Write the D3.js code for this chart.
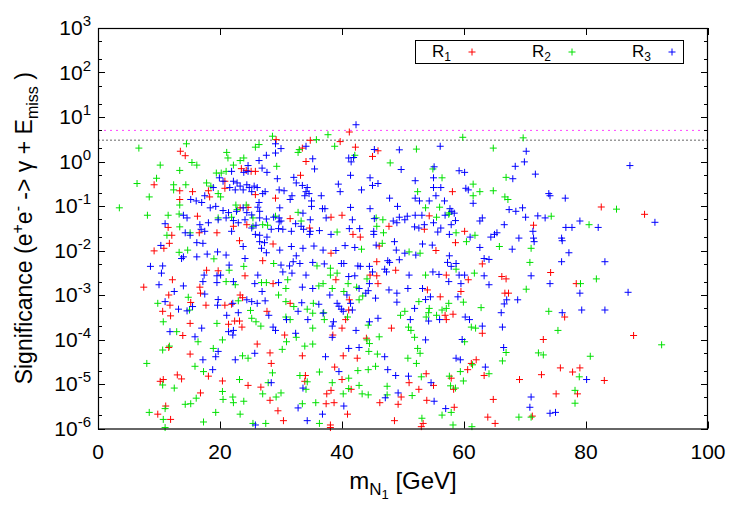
<!DOCTYPE html>
<html><head><meta charset="utf-8">
<script src="https://cdn.jsdelivr.net/npm/d3@7"></script>
<style>body{margin:0;background:#fff}svg{display:block}text{font-family:"Liberation Sans",Arial,sans-serif;fill:#000}</style>
</head><body><svg id="c" width="750" height="525"></svg>
<script>
const seriesNames=["R1","R2","R3"];
const seriesColors=["#ff0000","#00e000","#0000ff"];
const xTicks=[0,20,40,60,80,100];
const yExps=[-6,-5,-4,-3,-2,-1,0,1,2,3];
const thresholds=[5,3];
const R1=[[13.5,1.7],[14.3,1.35],[23.5,0.69],[24.3,0.63],[25.1,0.6],[20.8,0.36],[20.8,0.25],[9.2,0.3],[13.4,0.22],[15.5,0.21],[18.1,0.22],[18.3,0.16],[13.4,0.14],[16.3,0.059],[23.3,0.091],[24.6,0.093],[22.2,0.035],[24.4,0.038],[11.5,0.033],[12.1,0.022],[19.5,0.025],[16.6,0.025],
[41.2,4.6],[29.2,3.1],[34.8,3.0],[39.7,2.8],[33.5,2.0],[42.2,2.1],[34.1,1.0],[45.0,1.3],[45.9,1.74],[25.8,0.6],[33.2,0.49],[25.8,0.18],[29.1,0.15],[31.5,0.052],[34.7,0.032],[38.2,0.056],[40.0,0.062],[47.7,0.035],[41.8,0.023],[43.0,0.02],
[58.1,0.21],[54.3,0.06],[53.5,0.03],[71.4,0.037],[60.1,0.027],[82.5,0.095],[89.6,0.065],
[11.7,0.0145],[10.8,0.0112],[9.2,0.0098],[23.2,0.0166],[17.8,0.0036],[19.7,0.0035],[24.1,0.0027],[7.5,0.0015],[12.2,0.0022],[16.7,0.0015],[16.8,0.0011],[11.6,0.001],[15.2,0.00068],[17.7,0.00059],[20.8,0.00059],[21.9,0.00062],[23.3,0.001],[23.7,0.00087],[11.8,0.00059],[10.6,0.00043],[11.9,0.00034],[15.1,0.00023],[22.4,0.00026],[23.2,0.00026],[21.4,0.00022],[23.6,0.00019],[13.9,0.000123],[11.6,0.000066],[15.1,0.000047],
[28.7,0.014],[27.0,0.0059],[38.2,0.0087],[46.1,0.0126],[45.7,0.0056],[44.6,0.0028],[48.8,0.0036],[45.7,0.0027],[39.0,0.0022],[45.9,0.0018],[28.7,0.0018],[31.5,0.00065],[41.2,0.00078],[27.7,0.00043],[41.1,0.00046],[40.6,0.00028],[40.0,0.00018],[48.1,0.00018],[30.6,0.000126],[38.5,0.000126],[26.1,0.000079],[28.2,0.00005],[33.5,0.000043],[40.2,0.000043],[42.5,0.000038],[44.0,0.000107],
[58.6,0.015],[55.4,0.01],[63.0,0.005],[57.1,0.0028],[60.7,0.0022],[66.2,0.0026],[66.9,0.0023],[74.2,0.0032],[54.0,0.0013],[56.1,0.00091],[59.5,0.0012],[66.7,0.0011],[67.3,0.0011],[58.2,0.00037],[56.9,0.00035],[57.1,0.00028],[63.0,0.000138],[73.0,0.0001],[62.0,0.000035],
[78.4,0.0018],[76.5,0.00032],[87.8,0.000123],
[18.1,1.5e-5],[13.0,1.6e-5],[13.7,1.3e-5],[10.2,1.15e-5],[10.7,1.26e-5],[20.4,1.17e-5],[24.6,9.3e-6],[16.8,6.3e-6],[11.1,3.2e-6],[9.8,2.1e-6],[11.9,1.6e-6],
[28.4,2.9e-5],[38.8,2.4e-5],[34.0,1.55e-5],[26.7,8.5e-6],[28.2,4.3e-6],[33.9,1.15e-5],[40.0,1.26e-5],[37.5,6e-6],[38.2,7.2e-6],[41.5,7.6e-6],[49.7,5.1e-6],[46.2,3.8e-6],[37.4,3.6e-6],[38.7,3.8e-6],[40.9,2.1e-6],[29.5,2.5e-6],[30.4,1.5e-6],[38.1,1.2e-6],[38.1,1.05e-6],[49.2,3.5e-6],[48.6,1.5e-6],
[61.2,2.9e-5],[60.6,2.1e-5],[63.3,1.55e-5],[53.8,1.7e-5],[51.0,1.07e-5],[55.0,9.3e-6],[57.9,1.35e-5],[58.3,7.6e-6],[52.6,7.6e-6],[53.9,4.3e-6],[64.8,4.5e-6],[69.1,1.26e-5],[72.7,1.62e-5],[75.1,6e-6],[58.4,3e-6],[63.9,1.8e-6],[71.2,1.9e-6],[53.3,1.3e-6],[53.0,1.1e-6],[65.1,1.3e-6],
[75.8,2.3e-5],[77.8,1.86e-5],[79.0,2.3e-5],[83.0,1.2e-5],[78.6,6e-6]];
const R2=[[14.5,2.5],[6.7,2.0],[21.1,1.6],[21.3,1.2],[15.4,0.95],[16.2,0.83],[10.2,0.83],[13.4,0.63],[23.9,1.2],[23.3,1.05],[22.2,0.83],[19.4,0.55],[20.2,0.55],[21.0,0.6],[9.6,0.42],[6.4,0.32],[12.4,0.3],[12.4,0.23],[14.4,0.3],[17.8,0.33],[18.5,0.28],[19.7,0.19],[20.1,0.16],[8.4,0.16],[13.4,0.105],[3.5,0.091],[8.1,0.062],[11.5,0.062],[13.3,0.066],[22.6,0.105],[22.8,0.083],[24.3,0.105],[19.7,0.054],[21.9,0.056],[13.4,0.034],[11.3,0.022],[15.1,0.025],
[37.7,4.0],[28.6,3.7],[35.8,3.1],[26.4,2.4],[25.8,2.1],[38.8,2.2],[33.0,1.85],[32.8,1.6],[42.1,1.38],[47.9,0.93],[29.3,0.78],[32.8,0.072],[25.4,0.054],[29.1,0.059],[33.3,0.046],[45.6,0.054],[46.7,0.049],[25.4,0.035],[27.0,0.038],[27.8,0.037],[39.2,0.026],[45.7,0.035],[46.8,0.025],
[59.8,3.5],[69.7,3.4],[52.2,1.9],[64.8,2.0],[54.9,0.68],[66.9,0.44],[56.4,0.43],[61.5,0.31],[52.4,0.21],[62.6,0.21],[64.8,0.22],[61.5,0.17],[66.7,0.16],[67.2,0.14],[53.7,0.091],[56.0,0.094],[57.6,0.07],[55.5,0.056],[57.5,0.065],[74.3,0.059],[58.7,0.025],[61.8,0.022],
[85.0,0.085],[80.5,0.038],
[13.3,0.0091],[14.7,0.0102],[19.0,0.0065],[21.5,0.0036],[23.9,0.0044],[21.0,0.002],[22.5,0.0017],[14.8,0.00089],[23.0,0.00074],[9.8,0.00065],[15.0,0.00046],[10.7,0.00025],[25.0,0.00045],[25.2,0.0003],[19.5,0.00023],[12.9,0.00015],[16.4,0.000089],[20.4,0.000098],[11.7,0.000071],[10.6,0.000058],[18.9,0.000063],[23.7,0.000043],[24.6,0.000038],
[28.8,0.0051],[43.2,0.0107],[46.6,0.0145],[35.9,0.0045],[38.1,0.004],[36.9,0.0018],[39.2,0.0031],[38.1,0.0028],[41.0,0.0018],[44.1,0.0023],[26.8,0.0019],[27.6,0.0019],[31.1,0.0022],[30.8,0.0014],[29.6,0.001],[36.2,0.0016],[38.4,0.0014],[42.4,0.0015],[43.4,0.00095],[30.8,0.00071],[35.3,0.00065],[40.3,0.0012],[42.8,0.00078],[32.1,0.00055],[34.3,0.00048],[35.2,0.00039],[37.0,0.0004],[37.1,0.00028],[40.9,0.00032],[44.3,0.00021],[49.6,0.00035],[50.3,0.00043],[25.9,0.00025],[26.7,0.0002],[30.8,0.00032],[31.5,0.00028],[35.2,0.00018],[32.5,0.000112],[33.9,0.000071],[35.2,0.000079],[30.9,0.000089],[30.2,0.00006],[44.1,0.000098],[44.5,0.000081],[46.1,0.000115],[45.8,0.000047],[44.4,0.000054],
[60.4,0.0158],[65.8,0.0123],[71.0,0.0112],[51.0,0.0093],[52.8,0.0087],[58.7,0.0038],[70.8,0.0054],[53.7,0.0028],[61.7,0.0031],[70.2,0.00135],[52.6,0.00071],[59.9,0.00069],[57.5,0.00065],[57.1,0.0005],[56.4,0.00046],[55.5,0.00035],[54.3,0.0005],[54.2,0.0004],[53.8,0.00032],[62.8,0.00052],[73.9,0.00043],[61.2,0.00019],[61.9,0.00018],[50.9,0.00019],[51.3,0.00016],[51.9,0.000112],[60.1,0.000089],[75.4,0.00016],[66.9,0.000051],[52.4,0.000063],[52.8,0.000049],[50.8,0.000038],[66.3,0.000033],[72.2,0.00005],[73.0,0.000045],
[79.1,0.0018],[81.7,0.0023],[92.4,0.000076],[80.7,0.000042],
[8.0,2.9e-5],[15.9,2.5e-5],[17.3,1.9e-5],[10.6,9.5e-6],[12.5,8.1e-6],[23.2,1.26e-5],[16.1,4.8e-6],[15.2,3.6e-6],[14.3,3.5e-6],[20.4,6.8e-6],[20.5,4.5e-6],[22.1,5.1e-6],[22.2,3.8e-6],[23.9,4.1e-6],[11.0,2.8e-6],[8.4,2.3e-6],[19.3,2.3e-6],[23.3,2.1e-6],[10.7,1.6e-6],[17.3,1.4e-6],[11.0,1.05e-6],[25.4,1.3e-6],
[42.6,2e-5],[44.3,2.1e-5],[45.5,2.5e-5],[33.1,1.55e-5],[36.3,1.86e-5],[28.6,1.78e-5],[27.9,1.07e-5],[27.0,6e-6],[29.2,5.1e-6],[30.0,6.3e-6],[34.3,1.12e-5],[34.1,7.6e-6],[38.4,1.07e-5],[41.1,1.35e-5],[42.8,9.3e-6],[40.2,6e-6],[41.1,7.9e-6],[43.3,6e-6],[44.3,5.7e-6],[47.4,8.9e-6],[47.4,5.7e-6],[33.5,3.6e-6],[35.7,3.8e-6],[36.3,1.3e-6],[27.5,1.3e-6],
[52.2,2.9e-5],[61.4,2.7e-5],[59.4,1.9e-5],[64.1,1.7e-5],[53.0,1.45e-5],[57.6,1.5e-5],[59.9,1.17e-5],[57.8,9.1e-6],[58.6,8.1e-6],[51.5,5.5e-6],[57.9,2.3e-6],[56.4,2e-6],[69.0,1.8e-6],[71.0,1.8e-6],[53.1,1.7e-6],[58.2,1.2e-6],[61.3,1.1e-6],
[78.9,1.45e-5],[78.2,7.2e-6],[78.2,3.7e-6]];
const R3=[[24.6,0.81],[24.6,0.6],[23.9,0.57],[21.9,0.6],[19.9,0.43],[20.5,0.36],[22.2,0.36],[22.8,0.33],[23.3,0.28],[22.5,0.23],[21.6,0.26],[24.4,0.3],[23.8,0.23],[24.8,0.26],[25.2,0.21],[18.9,0.26],[17.5,0.17],[15.2,0.14],[16.1,0.13],[17.0,0.12],[14.0,0.062],[14.6,0.054],[18.4,0.091],[19.3,0.098],[20.5,0.079],[21.4,0.071],[21.0,0.054],[19.7,0.049],[22.7,0.076],[23.8,0.091],[24.4,0.071],[24.1,0.049],[25.2,0.063],[22.2,0.047],[23.0,0.042],[11.0,0.04],[16.7,0.038],[18.1,0.042],[16.9,0.03],[14.3,0.025],[15.1,0.022],[17.5,0.027],[21.9,0.027],[25.2,0.032],
[42.3,6.7],[29.1,2.5],[34.1,2.2],[30.0,1.95],[29.1,1.55],[27.6,1.38],[26.4,1.05],[35.2,1.15],[41.1,1.2],[41.9,1.23],[41.5,0.98],[45.3,1.86],[49.4,1.83],[49.7,0.66],[26.9,0.71],[27.7,0.57],[35.5,0.68],[41.4,0.49],[29.4,0.41],[32.1,0.44],[32.5,0.33],[33.5,0.29],[34.3,0.26],[44.6,0.43],[45.9,0.32],[45.0,0.29],[25.6,0.28],[26.1,0.26],[27.4,0.21],[27.0,0.19],[29.7,0.23],[30.5,0.22],[34.1,0.21],[36.6,0.17],[39.4,0.31],[39.7,0.21],[43.2,0.23],[31.8,0.17],[31.5,0.14],[33.9,0.17],[34.6,0.19],[35.0,0.13],[47.8,0.15],[26.4,0.12],[26.2,0.094],[26.5,0.076],[29.8,0.091],[35.0,0.098],[36.8,0.087],[37.2,0.087],[41.4,0.093],[44.6,0.087],[49.1,0.098],[49.4,0.056],[33.6,0.069],[26.5,0.054],[27.6,0.051],[28.8,0.056],[29.7,0.054],[30.0,0.046],[34.8,0.049],[37.4,0.054],[41.7,0.049],[45.3,0.052],[49.0,0.042],[50.3,0.049],[25.9,0.037],[28.4,0.03],[29.6,0.031],[29.7,0.044],[30.3,0.03],[31.7,0.027],[32.4,0.04],[33.3,0.035],[34.8,0.027],[36.3,0.028],[38.2,0.023],[41.2,0.031],[42.9,0.031],[45.2,0.027],[25.8,0.023],[26.5,0.022],[27.7,0.02],[34.7,0.023],[33.7,0.03],[48.4,0.046],[45.2,0.023],
[56.1,2.2],[70.2,1.7],[69.9,0.98],[68.4,0.78],[55.1,0.76],[59.2,0.62],[60.1,0.57],[71.7,0.52],[68.0,0.41],[52.0,0.37],[55.0,0.43],[55.0,0.26],[56.2,0.26],[60.3,0.25],[60.7,0.23],[55.4,0.17],[52.0,0.15],[52.7,0.13],[54.3,0.13],[56.8,0.13],[61.5,0.115],[73.9,0.19],[74.1,0.17],[57.7,0.087],[58.0,0.076],[67.4,0.083],[68.5,0.076],[69.6,0.091],[50.7,0.059],[52.0,0.062],[53.1,0.062],[56.9,0.062],[58.4,0.069],[58.6,0.047],[70.1,0.056],[72.1,0.06],[73.3,0.054],[63.0,0.054],[62.6,0.046],[66.6,0.038],[51.9,0.034],[52.6,0.032],[53.5,0.038],[55.0,0.042],[56.2,0.032],[55.7,0.026],[57.9,0.038],[71.3,0.027],[57.6,0.023],[61.0,0.02],[64.4,0.02],[65.0,0.023],[65.4,0.025],[69.0,0.019],[71.4,0.019],
[87.2,0.81],[76.6,0.15],[79.0,0.046],[82.0,0.033],[76.7,0.033],[77.7,0.033],[91.3,0.043],[76.0,0.019],
[10.3,0.013],[16.2,0.015],[17.2,0.0145],[14.0,0.0072],[13.7,0.0066],[16.2,0.0072],[17.9,0.0083],[19.6,0.0093],[21.0,0.0079],[21.5,0.0047],[23.8,0.0123],[24.1,0.0066],[8.6,0.0044],[10.6,0.0045],[10.4,0.0031],[17.4,0.0028],[19.5,0.0027],[20.1,0.0028],[19.5,0.0019],[17.2,0.002],[22.2,0.002],[10.0,0.0017],[14.0,0.0016],[17.5,0.00105],[12.5,0.0012],[15.5,0.00055],[14.6,0.00044],[19.7,0.00079],[19.6,0.00059],[22.1,0.00065],[24.4,0.00078],[25.2,0.00071],[11.0,0.00071],[13.2,0.00048],[17.0,0.00018],[21.1,0.00035],[23.0,0.0004],[22.2,0.00016],[21.4,0.00015],[22.1,0.000126],[11.8,0.00015],[15.9,0.000115],[17.2,0.000035],[19.7,0.000054],[19.3,0.000041],[22.5,0.000035],
[26.5,0.0158],[27.3,0.015],[27.6,0.0089],[26.8,0.0112],[29.8,0.0102],[31.7,0.0123],[33.6,0.0112],[35.4,0.0126],[36.9,0.0102],[39.0,0.01],[40.5,0.0129],[42.1,0.0117],[45.6,0.0132],[48.6,0.0158],[48.9,0.0102],[50.3,0.0087],[49.4,0.0062],[47.5,0.0059],[47.8,0.0054],[47.0,0.0038],[47.3,0.0033],[32.5,0.0076],[33.1,0.0051],[32.0,0.0056],[30.0,0.0047],[30.3,0.0033],[31.4,0.0045],[31.8,0.0031],[35.2,0.0054],[37.1,0.005],[39.9,0.0051],[40.3,0.0051],[42.6,0.0045],[43.0,0.0044],[44.5,0.0044],[45.0,0.0033],[26.2,0.0028],[34.1,0.0028],[41.1,0.0026],[42.1,0.0027],[44.5,0.0018],[25.7,0.0018],[29.6,0.0019],[26.9,0.0012],[33.5,0.0015],[35.2,0.0014],[38.0,0.001],[42.8,0.0014],[44.3,0.00125],[43.9,0.0011],[47.7,0.0013],[49.0,0.0011],[27.4,0.00074],[26.1,0.00065],[33.4,0.00067],[36.2,0.00062],[36.9,0.00039],[39.2,0.00065],[39.5,0.00056],[41.4,0.00065],[40.8,0.001],[45.5,0.00085],[49.0,0.00069],[28.0,0.00035],[32.8,0.00043],[34.4,0.00028],[39.9,0.00048],[40.2,0.00043],[41.7,0.00046],[38.6,0.00025],[38.4,0.0002],[42.3,0.00016],[44.5,0.00025],[45.9,0.0003],[28.7,0.00019],[29.1,0.00016],[30.9,0.00028],[32.4,0.000138],[38.4,0.000112],[25.7,0.000049],[37.3,0.000041],[41.1,0.000063],[42.8,0.000066],[47.0,0.000041],
[53.2,0.014],[54.8,0.0132],[62.6,0.0117],[67.9,0.0107],[71.5,0.0158],[52.1,0.0079],[57.6,0.0076],[57.3,0.0054],[58.7,0.0051],[57.9,0.0044],[63.3,0.0066],[64.1,0.0063],[51.0,0.0028],[54.9,0.0033],[55.9,0.0029],[59.2,0.0028],[60.1,0.0028],[63.3,0.0027],[71.0,0.0027],[57.5,0.002],[59.5,0.0018],[64.1,0.0017],[74.1,0.0018],[50.8,0.0014],[53.2,0.0014],[54.5,0.00091],[53.7,0.00079],[59.0,0.00091],[67.0,0.00078],[66.6,0.00063],[68.8,0.00078],[56.0,0.00028],[51.9,0.0005],[54.2,0.00026],[51.2,0.00028],[60.2,0.00032],[60.9,0.00028],[66.1,0.0004],[63.0,0.0002],[66.3,0.00019],[53.7,0.000098],[59.7,0.0001],[66.5,0.000066],[58.7,0.000038],[59.4,0.000035],
[76.1,0.0166],[77.2,0.0089],[76.0,0.0056],[83.1,0.0056],[79.0,0.0011],[86.9,0.00115],[76.1,0.0004],[79.3,0.00046],[83.1,0.00046],
[18.8,2.1e-5],[39.5,1.9e-5],[47.5,2.1e-5],[48.8,1.55e-5],[28.4,1.07e-5],[33.6,8.1e-6],[49.2,6.3e-6],[47.1,4.9e-6],[32.8,2.9e-6],[40.3,3.2e-6],[36.8,2.1e-6],[34.3,1.5e-6],[25.8,1.2e-6],
[63.5,2.4e-5],[50.9,1.5e-5],[54.6,1.07e-5],[55.1,4.1e-6],[71.0,5.1e-6],[70.8,3e-6],[74.1,2.2e-6],[75.0,2.3e-6],[57.0,2.8e-6],[80.1,1.26e-5]];
const allSeries=[R1,R2,R3];

const svg=d3.select("#c");
const L=98,R=708,T=28,B=428.5;
const x=d3.scaleLinear().domain([0,100]).range([L,R]);
const y=d3.scaleLog().domain([1e-6,1e3]).range([B,T]);

svg.append("line").attr("x1",L).attr("x2",R).attr("y1",y(thresholds[0])).attr("y2",y(thresholds[0]))
  .attr("stroke","#ff44ff").attr("stroke-width",1).attr("stroke-dasharray","2,4");
svg.append("line").attr("x1",L).attr("x2",R).attr("y1",y(thresholds[1])).attr("y2",y(thresholds[1]))
  .attr("stroke","#999").attr("stroke-width",1.5).attr("stroke-dasharray","2,2");

const cross="M-3.5,0H3.5M0,-3.5V3.5";
allSeries.forEach((s,i)=>{
  svg.append("g").selectAll("path").data(s).join("path")
    .attr("d",cross).attr("transform",d=>`translate(${x(d[0])},${y(d[1])})`)
    .attr("stroke",seriesColors[i]).attr("stroke-width",1).attr("fill","none");
});

const majorY=yExps.map(e=>Math.pow(10,e));
const minorY=[];
yExps.slice(0,-1).forEach(e=>[2,5].forEach(m=>minorY.push(m*Math.pow(10,e))));
const gAx=svg.append("g").attr("stroke","#000").attr("stroke-width",1);
majorY.forEach(v=>{const yy=Math.round(y(v))+0.5;
  gAx.append("line").attr("x1",L).attr("x2",L+7).attr("y1",yy).attr("y2",yy);
  gAx.append("line").attr("x1",R-7).attr("x2",R).attr("y1",yy).attr("y2",yy);});
minorY.forEach(v=>{const yy=Math.round(y(v))+0.5;
  gAx.append("line").attr("x1",L).attr("x2",L+4).attr("y1",yy).attr("y2",yy);
  gAx.append("line").attr("x1",R-4).attr("x2",R).attr("y1",yy).attr("y2",yy);});
xTicks.forEach(v=>{const xx=Math.round(x(v))+0.5;
  gAx.append("line").attr("x1",xx).attr("x2",xx).attr("y1",B).attr("y2",B-7);
  gAx.append("line").attr("x1",xx).attr("x2",xx).attr("y1",T).attr("y2",T+7);});
svg.append("rect").attr("x",L+0.5).attr("y",T+0.5).attr("width",R-L-1).attr("height",B-T)
  .attr("fill","none").attr("stroke","#000").attr("stroke-width",1.2);

xTicks.forEach(v=>svg.append("text").attr("x",x(v)).attr("y",B+30).attr("text-anchor","middle")
  .attr("font-size",21).text(v));
yExps.forEach(e=>{const t=svg.append("text").attr("x",L-7).attr("y",y(Math.pow(10,e))+7)
  .attr("text-anchor","end").attr("font-size",21);
  t.append("tspan").text("10");
  t.append("tspan").attr("dy",-9).attr("font-size",15).text(e);});

const xt=svg.append("text").attr("x",(L+R)/2).attr("y",B+60).attr("text-anchor","middle").attr("font-size",24);
xt.append("tspan").text("m");
xt.append("tspan").attr("dy",6).attr("font-size",17).text("N");
xt.append("tspan").attr("dy",4).attr("font-size",13).text("1");
xt.append("tspan").attr("dy",-10).text(" [GeV]");

const yt=svg.append("text").attr("transform",`translate(32,${(T+B)/2}) rotate(-90)`)
  .attr("text-anchor","middle").attr("font-size",23);
yt.append("tspan").text("Significance (e");
yt.append("tspan").attr("dy",-9).attr("font-size",16).text("+");
yt.append("tspan").attr("dy",9).text("e");
yt.append("tspan").attr("dy",-9).attr("font-size",16).text("-");
yt.append("tspan").attr("dy",9).text(" -> \u03b3 + E");
yt.append("tspan").attr("dy",6).attr("font-size",16).text("miss");
yt.append("tspan").attr("dy",-6).text(" )");

const lg=svg.append("g");
lg.append("rect").attr("x",415.5).attr("y",40.5).attr("width",268).attr("height",23)
  .attr("fill","#fff").attr("stroke","#000").attr("stroke-width",1);
const lx=[451,551,651];
seriesNames.forEach((n,i)=>{
  const t=lg.append("text").attr("x",lx[i]).attr("y",57).attr("text-anchor","end").attr("font-size",17);
  t.append("tspan").text(n[0]);
  t.append("tspan").attr("dy",4).attr("font-size",12).text(n[1]);
  lg.append("path").attr("d",cross).attr("transform",`translate(${lx[i]+21},52)`)
    .attr("stroke",seriesColors[i]).attr("fill","none");
});
</script></body></html>
